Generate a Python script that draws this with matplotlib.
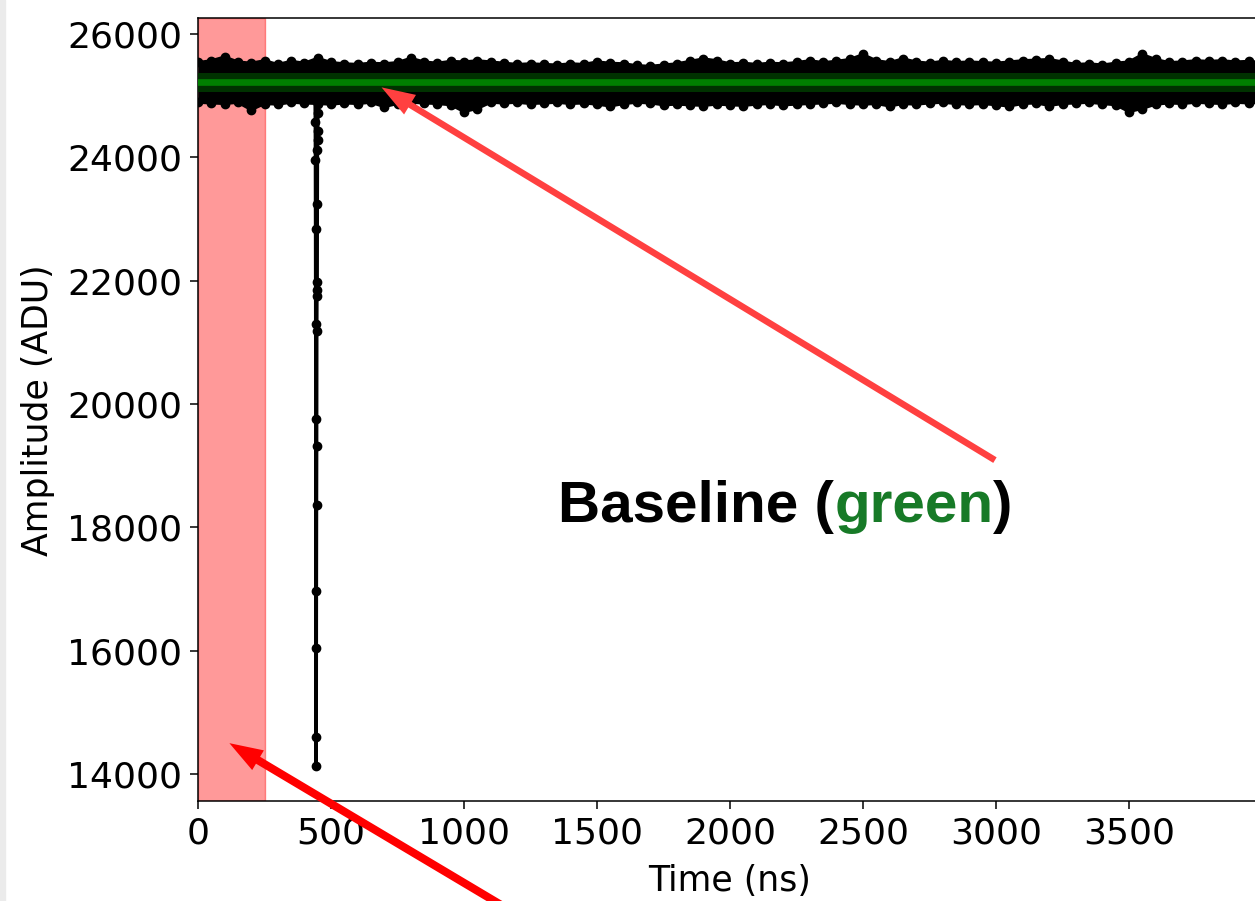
import matplotlib
matplotlib.use("Agg")
import matplotlib.pyplot as plt
from matplotlib.patches import Rectangle
from matplotlib.offsetbox import TextArea, HPacker, AnnotationBbox

# ---------------- data ----------------
# envelope of the noisy baseline samples (ns, ADU)
env_t = [0, 50, 100, 150, 200, 250, 300, 350, 400, 450, 500, 550, 600, 650, 700, 750,
         800, 850, 900, 950, 1000, 1050, 1100, 1150, 1200, 1250, 1300, 1350, 1400, 1450,
         1500, 1550, 1600, 1650, 1700, 1750, 1800, 1850, 1900, 1950, 2000, 2050, 2100,
         2150, 2200, 2250, 2300, 2350, 2400, 2450, 2500, 2550, 2600, 2650, 2700, 2750,
         2800, 2850, 2900, 2950, 3000, 3050, 3100, 3150, 3200, 3250, 3300, 3350, 3400,
         3450, 3500, 3550, 3600, 3650, 3700, 3750, 3800, 3850, 3900, 3950, 4000]
env_upper = [25540, 25570, 25630, 25550, 25530, 25570, 25510, 25560, 25530, 25610, 25540,
             25520, 25510, 25530, 25520, 25540, 25610, 25550, 25530, 25560, 25550, 25570,
             25550, 25530, 25510, 25520, 25510, 25500, 25520, 25510, 25550, 25530, 25520,
             25490, 25480, 25500, 25520, 25560, 25600, 25570, 25520, 25530, 25510, 25530,
             25520, 25540, 25570, 25540, 25560, 25590, 25670, 25570, 25540, 25600, 25550,
             25530, 25560, 25540, 25550, 25540, 25530, 25550, 25570, 25580, 25590, 25550,
             25510, 25520, 25500, 25530, 25550, 25670, 25590, 25540, 25550, 25570, 25560,
             25570, 25550, 25560, 25540]
env_lower = [24890, 24880, 24870, 24890, 24770, 24870, 24860, 24890, 24880, 24870, 24860,
             24880, 24870, 24890, 24820, 24870, 24890, 24880, 24870, 24850, 24740, 24790,
             24890, 24880, 24890, 24870, 24880, 24890, 24870, 24880, 24860, 24830, 24870,
             24890, 24880, 24850, 24860, 24850, 24840, 24860, 24850, 24840, 24860, 24870,
             24850, 24860, 24870, 24880, 24890, 24870, 24860, 24870, 24830, 24870, 24860,
             24880, 24890, 24870, 24860, 24870, 24850, 24830, 24870, 24880, 24840, 24870,
             24880, 24890, 24870, 24850, 24740, 24790, 24860, 24880, 24870, 24890, 24880,
             24870, 24890, 24880, 24890]

# samples of the pulse (ns, ADU)
pulse_t = [440.0, 441.0, 441.5, 442.0, 442.5, 443.0, 443.5, 444.0, 444.5, 445.0, 445.5,
           446.0, 446.5, 447.0, 447.5, 448.0, 448.5, 449.0, 449.5, 450.0, 450.5, 451.0]
pulse_v = [25100, 24573, 23956, 22837, 21296, 19756, 16041, 14127, 14597, 16966, 18361,
           19318, 21183, 21750, 21848, 21977, 23243, 24118, 24281, 24427, 24719, 25000]

baseline = 25222
baseline_lo = 25060
baseline_hi = 25368
window = (0, 250)

xticks = [0, 500, 1000, 1500, 2000, 2500, 3000, 3500]
yticks = [14000, 16000, 18000, 20000, 22000, 24000, 26000]

# ---------------- figure ----------------
W, H = 1255, 901
fig = plt.figure(figsize=(W / 100, H / 100), dpi=100)
fig.patches.append(Rectangle((0, 0), 5 / W, 1, transform=fig.transFigure,
                             color='#ebebeb', zorder=0))
ax = fig.add_axes([198 / W, 100 / H, 1064 / W, 783 / H])

ax.axvspan(window[0], window[1], color='red', alpha=0.4, zorder=0.5)

ax.fill_between(env_t, env_lower, env_upper, color='black', lw=0, zorder=2)
ax.plot(env_t, env_upper, color='black', lw=2, marker='o', ms=6, zorder=2)
ax.plot(env_t, env_lower, color='black', lw=2, marker='o', ms=6, zorder=2)
ax.plot(pulse_t, pulse_v, color='black', lw=2.5, marker='o', ms=6, zorder=2)

ax.axhspan(baseline_lo, baseline_hi, color='#003200', lw=0, zorder=3)
ax.axhline(baseline, color='#008000', lw=4.8, zorder=4)

ax.set_xlim(0, 4000)
ax.set_ylim(13562, 26260)
ax.set_xticks(xticks)
ax.set_yticks(yticks)
ax.tick_params(labelsize=26, length=5.5, width=1.1, pad=6)
for s in ax.spines.values():
    s.set_linewidth(1.1)

ax.set_xlabel('Time (ns)', fontsize=25)
ax.set_ylabel('Amplitude (ADU)', fontsize=25)
ax.xaxis.set_label_coords(0.5, -0.081)
ax.yaxis.set_label_coords(-0.1344, 0.499)

# arrows
ax.annotate('', xy=(690, 25135), xytext=(2996, 19090),
            arrowprops=dict(facecolor='#ff4040', edgecolor='none', width=4.7,
                            headwidth=16.5, headlength=24, shrink=0),
            annotation_clip=False, zorder=6)
ax.annotate('', xy=(118, 14500), xytext=(1605, 10680),
            arrowprops=dict(facecolor='#ff0000', edgecolor='none', width=5.8,
                            headwidth=16.5, headlength=24, shrink=0),
            annotation_clip=False, zorder=6)

# label
tp = dict(fontsize=42, fontweight='bold', family='Liberation Sans')
parts = [TextArea('Baseline (', textprops=dict(color='black', **tp)),
         TextArea('green', textprops=dict(color='#177a27', **tp)),
         TextArea(')', textprops=dict(color='black', **tp))]
box = HPacker(children=parts, align='baseline', pad=0, sep=0)
ab = AnnotationBbox(box, (785.5, H - 507), xycoords='figure pixels', frameon=False,
                    box_alignment=(0.5, 0.5), pad=0)
ax.add_artist(ab)

fig.savefig('out.png', dpi=100)
